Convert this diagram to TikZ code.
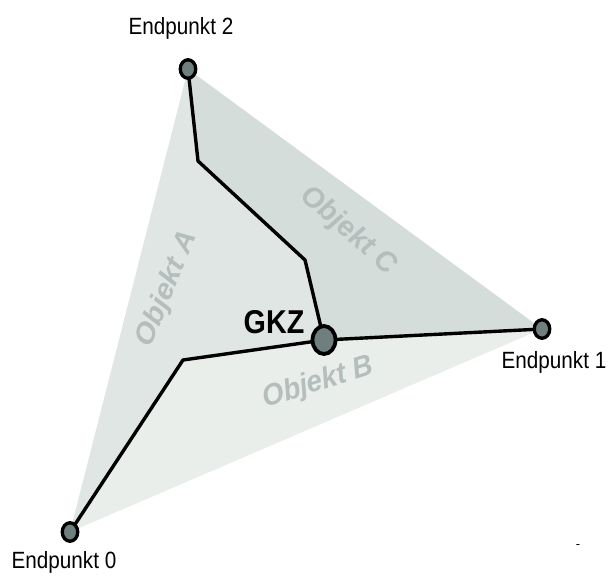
\documentclass[tikz,border=0pt]{standalone}
\usepackage{fontspec}
\setmainfont{Liberation Sans}
\usetikzlibrary{shapes.geometric}
\definecolor{regC}{RGB}{213,221,218}
\definecolor{regA}{RGB}{224,230,227}
\definecolor{regB}{RGB}{234,238,235}
\definecolor{nodefill}{RGB}{111,127,126}
\definecolor{objtext}{RGB}{180,191,189}
\tikzset{
  endpt/.style={ellipse, draw=black, line width=3.3pt, fill=nodefill, minimum width=15.5pt, minimum height=18.5pt, inner sep=0pt},
  centerpt/.style={ellipse, draw=black, line width=3.8pt, fill=nodefill, minimum width=23pt, minimum height=28pt, inner sep=0pt},
  wire/.style={line width=3.4pt, line join=round},
  eplabel/.style={inner sep=0pt, font=\fontsize{23.5}{23.5}\selectfont, xscale=0.88},
  objlabel/.style={inner sep=0pt, text=objtext, font=\fontsize{30}{30}\selectfont\bfseries\itshape, xscale=0.92}
}
\begin{document}
\begin{tikzpicture}[x=1pt,y=-1pt]
\useasboundingbox (0,0) rectangle (609,576);
\coordinate (p2) at (188,69);
\coordinate (p1) at (542,329);
\coordinate (p0) at (70,532);
\coordinate (pg) at (324,340);
\coordinate (b1) at (198,161);
\coordinate (b2) at (305,260);
\coordinate (b3) at (183,360);
% regions
\fill[regC] (p2) -- (p1) -- (pg) -- (b2) -- (b1) -- cycle;
\fill[regA] (p2) -- (b1) -- (b2) -- (pg) -- (b3) -- (p0) -- cycle;
\fill[regB] (p0) -- (b3) -- (pg) -- (p1) -- cycle;
% region labels
\node[objlabel, rotate=-39] (objC) at (348,231) {Objekt C};
\node[objlabel, rotate=66] (objA) at (167,289) {Objekt A};
\node[objlabel, rotate=16] (objB) at (318,383) {Objekt B};
% wires
\draw[wire] (p2) -- (b1) -- (b2) -- (pg);
\draw[wire] (pg) -- (p1);
\draw[wire] (pg) -- (b3) -- (p0);
% nodes
\node[endpt] (e2) at (p2) {};
\node[endpt] (e1) at (p1) {};
\node[endpt] (e0) at (p0) {};
\node[centerpt] (gkz) at (pg) {};
% labels
\node[eplabel] (l2) at (181,28) {Endpunkt 2};
\node[eplabel] (l1) at (554,362) {Endpunkt 1};
\node[eplabel] (l0) at (64,562) {Endpunkt 0};
\node[inner sep=0pt, font=\fontsize{33}{33}\selectfont\bfseries, xscale=0.87] (lg) at (274,322) {GKZ};
\node[inner sep=0pt, font=\fontsize{13}{13}\selectfont] (dash) at (578,547) {-};
\end{tikzpicture}
\end{document}
